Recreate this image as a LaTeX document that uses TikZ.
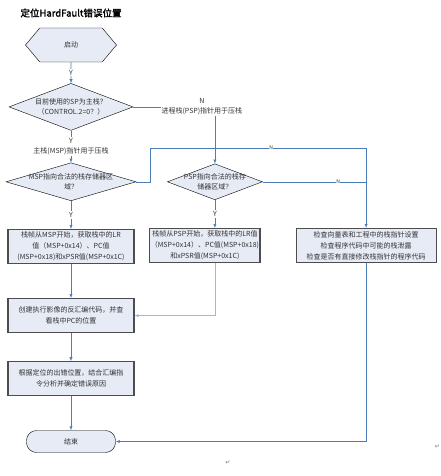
\documentclass[tikz,border=0pt]{standalone}
\usepackage{fontspec}
\newfontfamily\cjk{Noto Sans CJK SC}
\newfontfamily\cjkbold[FakeBold=2]{Noto Sans CJK SC}
\newfontfamily\symfont{DejaVu Sans}
\usepackage{tikz}
\usetikzlibrary{arrows.meta,calc,positioning,shapes.geometric,shapes.symbols}
\definecolor{hfBlue}{HTML}{4A7EBB}
\definecolor{hfBlueLight}{HTML}{9DB9DE}
\definecolor{hfFill}{HTML}{E6EBF5}
\definecolor{hfEdge}{HTML}{4D4D4D}
\definecolor{hfText}{HTML}{333333}
\tikzset{
  flow/.style={-{Latex[length=4pt,width=3.2pt]}, semithick, draw=hfBlue},
  flow light/.style={flow, draw=hfBlueLight},
  join line/.style={semithick, draw=hfBlue},
  start box/.style={signal, signal to=west and east, signal pointer angle=100,
    draw=black, fill=hfFill, minimum width=91pt, minimum height=34pt,
    inner sep=0pt, font=\cjk\fontsize{7}{8}\selectfont, text=hfText},
  end box/.style={draw=black, fill=hfFill, rounded corners=10pt,
    minimum width=89pt, minimum height=22pt, inner sep=0pt,
    font=\cjk\fontsize{7}{8}\selectfont, text=hfText},
  decision box/.style={diamond, draw=black, fill=hfFill, inner sep=0pt},
  decision text/.style={align=center, inner sep=0pt,
    font=\cjk\fontsize{7}{10.5}\selectfont, text=hfText},
  process box/.style={draw=hfEdge, line width=1.1pt, fill=hfFill,
    align=center, minimum height=34pt, inner xsep=1pt, inner ysep=0pt,
    font=\cjk\fontsize{7}{11}\selectfont, text=hfText},
  tiny label/.style={fill=white, inner sep=1pt, align=center,
    font=\cjk\fontsize{7}{10}\selectfont, text=hfText},
  n label/.style={fill=white, inner sep=0.5pt,
    font=\cjk\fontsize{5}{5}\selectfont, text=hfText},
  ret mark/.style={inner sep=0pt, font=\symfont\fontsize{6}{6}\selectfont,
    text=black!55}
}
\begin{document}
\begin{tikzpicture}[x=1pt, y=1pt]
  \useasboundingbox (0,0) rectangle (440,-476);
  \node[font=\cjkbold\fontsize{9.5}{10}\selectfont] (title) at (71,-13)
    {定位HardFault错误位置};
  % main column
  \node[start box] (start) at (71,-45) {启动};
  \node[decision box, below=21pt of start, minimum width=124pt,
    minimum height=47pt] (d1) {};
  \node[decision text] (d1text) at (d1) {目前使用的SP为主栈？\\（CONTROL.2=0？）};
  \node[decision box, below=32pt of d1, minimum width=130pt,
    minimum height=38pt] (msp) {};
  \node[decision text] (msptext) at (msp) {MSP指向合法的栈存储器区\\域？};
  \node[process box, below=28pt of msp, minimum width=126pt] (mspframe)
    {栈帧从MSP开始，获取栈中的LR\\值（MSP+0x14）、PC值\\(MSP+0x18)和xPSR值(MSP+0x1C)};
  \node[process box, below=34pt of mspframe, minimum width=126pt] (disasm)
    {创建执行影像的反汇编代码，并查\\看栈中PC的位置};
  \node[process box, below=28pt of disasm, minimum width=126pt] (cause)
    {根据定位的出错位置，结合汇编指\\令分析并确定错误原因};
  \node[end box, below=34pt of cause] (end) {结束};
  % psp branch
  \node[decision box, right=31pt of msp, minimum width=95pt,
    minimum height=36pt] (psp) {};
  \node[decision text] (psptext) at (psp) {PSP指向合法的栈存\\储器区域？};
  \node[process box, below=28pt of psp, xshift=-10pt, minimum width=106pt] (pspframe)
    {栈帧从PSP开始，获取栈中的LR值\\（MSP+0x14）、PC值(MSP+0x18)\\和xPSR值(MSP+0x1C)};
  \node[process box, right=35pt of pspframe, minimum width=140pt] (check)
    {检查向量表和工程中的栈指针设置\\检查程序代码中可能的栈泄露\\检查是否有直接修改栈指针的程序代码};
  \coordinate (ntop) at ($(check.north)+(0,80pt)$);

  \draw[flow] (start) -- node[tiny label] {Y} (d1);
  \draw[flow] (d1) -- (msp);
  \node[tiny label] (mspnote) at ($(d1.south)!0.5!(msp.north)$)
    {Y\\主栈(MSP)指针用于压栈};
  \draw[flow] (d1.east) -| (psp.north);
  \node[tiny label] (pspnote) at ($(d1.east -| psp.north)+(-13pt,0)$)
    {N\\进程栈(PSP)指针用于压栈};
  \draw[flow] (msp.east) -- ++(14pt,0) |- (ntop)
    node[n label, pos=0.78] {N} -- (check.north);
  \draw[join line] (psp.east) -- node[n label, pos=0.73] {N} (psp.east -| check.north);
  \draw[flow] (msp) -- node[tiny label] {Y} (mspframe);
  \draw[flow] (psp.south) -- node[tiny label] {Y} (psp.south |- pspframe.north);
  \draw[flow] (mspframe) -- (disasm);
  \draw[flow light] (psp.south |- pspframe.south) |- (disasm.east);
  \draw[flow] (disasm) -- (cause);
  \draw[flow] (cause) -- (end);
  \draw[flow] (check.south) |- (end.east);

  \node[ret mark] (ret1) at (228,-463) {↵};
  \node[ret mark, anchor=east] (ret2) at (440,-447) {↵};
\end{tikzpicture}
\end{document}
